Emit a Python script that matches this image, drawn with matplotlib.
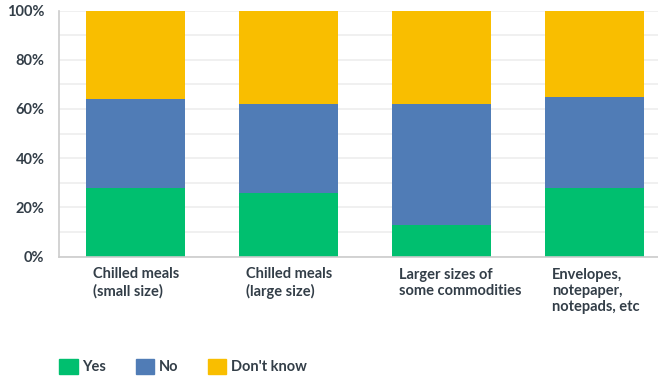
import numpy as np
import matplotlib
matplotlib.use('Agg')
import matplotlib.pyplot as plt
from matplotlib.patches import Patch

categories = ['Chilled meals\n(small size)', 'Chilled meals\n(large size)',
              'Larger sizes of\nsome commodities', 'Envelopes,\nnotepaper,\nnotepads, etc']
yes = [28, 26, 13, 28]
no = [36, 36, 49, 37]
dont_know = [36, 38, 38, 35]
series_names = ['Yes', 'No', "Don't know"]
colors = ['#00BF6F', '#507CB6', '#F9BE00']
text_col = '#333E48'

plt.rcParams['font.family'] = ['Lato', 'DejaVu Sans']

fig = plt.figure(figsize=(6.58, 3.8), dpi=100)
ax = fig.add_axes([58.5 / 658, 123.5 / 380, (658 - 58.5) / 658, 246 / 380])

x = np.arange(len(categories))
w = 0.647
bottom = np.zeros(len(categories))
for vals, c in zip([yes, no, dont_know], colors):
    ax.bar(x, vals, w, bottom=bottom, color=c, zorder=2)
    bottom += np.array(vals)

ax.set_xlim(-0.503, 3.415)
ax.set_ylim(0, 100)
ax.set_yticks(np.arange(0, 101, 20))
ax.set_yticks(np.arange(0, 101, 10), minor=True)
ax.set_yticklabels([f'{v}%' for v in range(0, 101, 20)], fontsize=10.5,
                   fontweight='bold', color=text_col)
ax.yaxis.grid(True, which='both', color='#EEEEEE', lw=1.2, zorder=0)
ax.tick_params(axis='y', which='both', length=0, pad=10)
ax.set_xticks([])
for s in ['top', 'right']:
    ax.spines[s].set_visible(False)
for s in ['left', 'bottom']:
    ax.spines[s].set_color('#CCCCCC')
    ax.spines[s].set_linewidth(1.2)

for i, lab in enumerate(categories):
    ax.annotate(lab, xy=(i - w / 2, 0), xytext=(7, -11), textcoords='offset pixels',
                ha='left', va='top', fontsize=10.5, fontweight='bold', color=text_col,
                linespacing=1.2, annotation_clip=False)

handles = [Patch(facecolor=c, edgecolor=c) for c in colors]
leg = fig.legend(handles, series_names, loc='center left', bbox_to_anchor=(46 / 658, 1 - 366.5 / 380),
                 ncol=3, frameon=False, handlelength=1.3, handleheight=1.3,
                 handletextpad=0.3, columnspacing=2.0,
                 prop={'size': 10.5, 'weight': 'bold'})
for t in leg.get_texts():
    t.set_color(text_col)

fig.savefig('out.png', dpi=100)
